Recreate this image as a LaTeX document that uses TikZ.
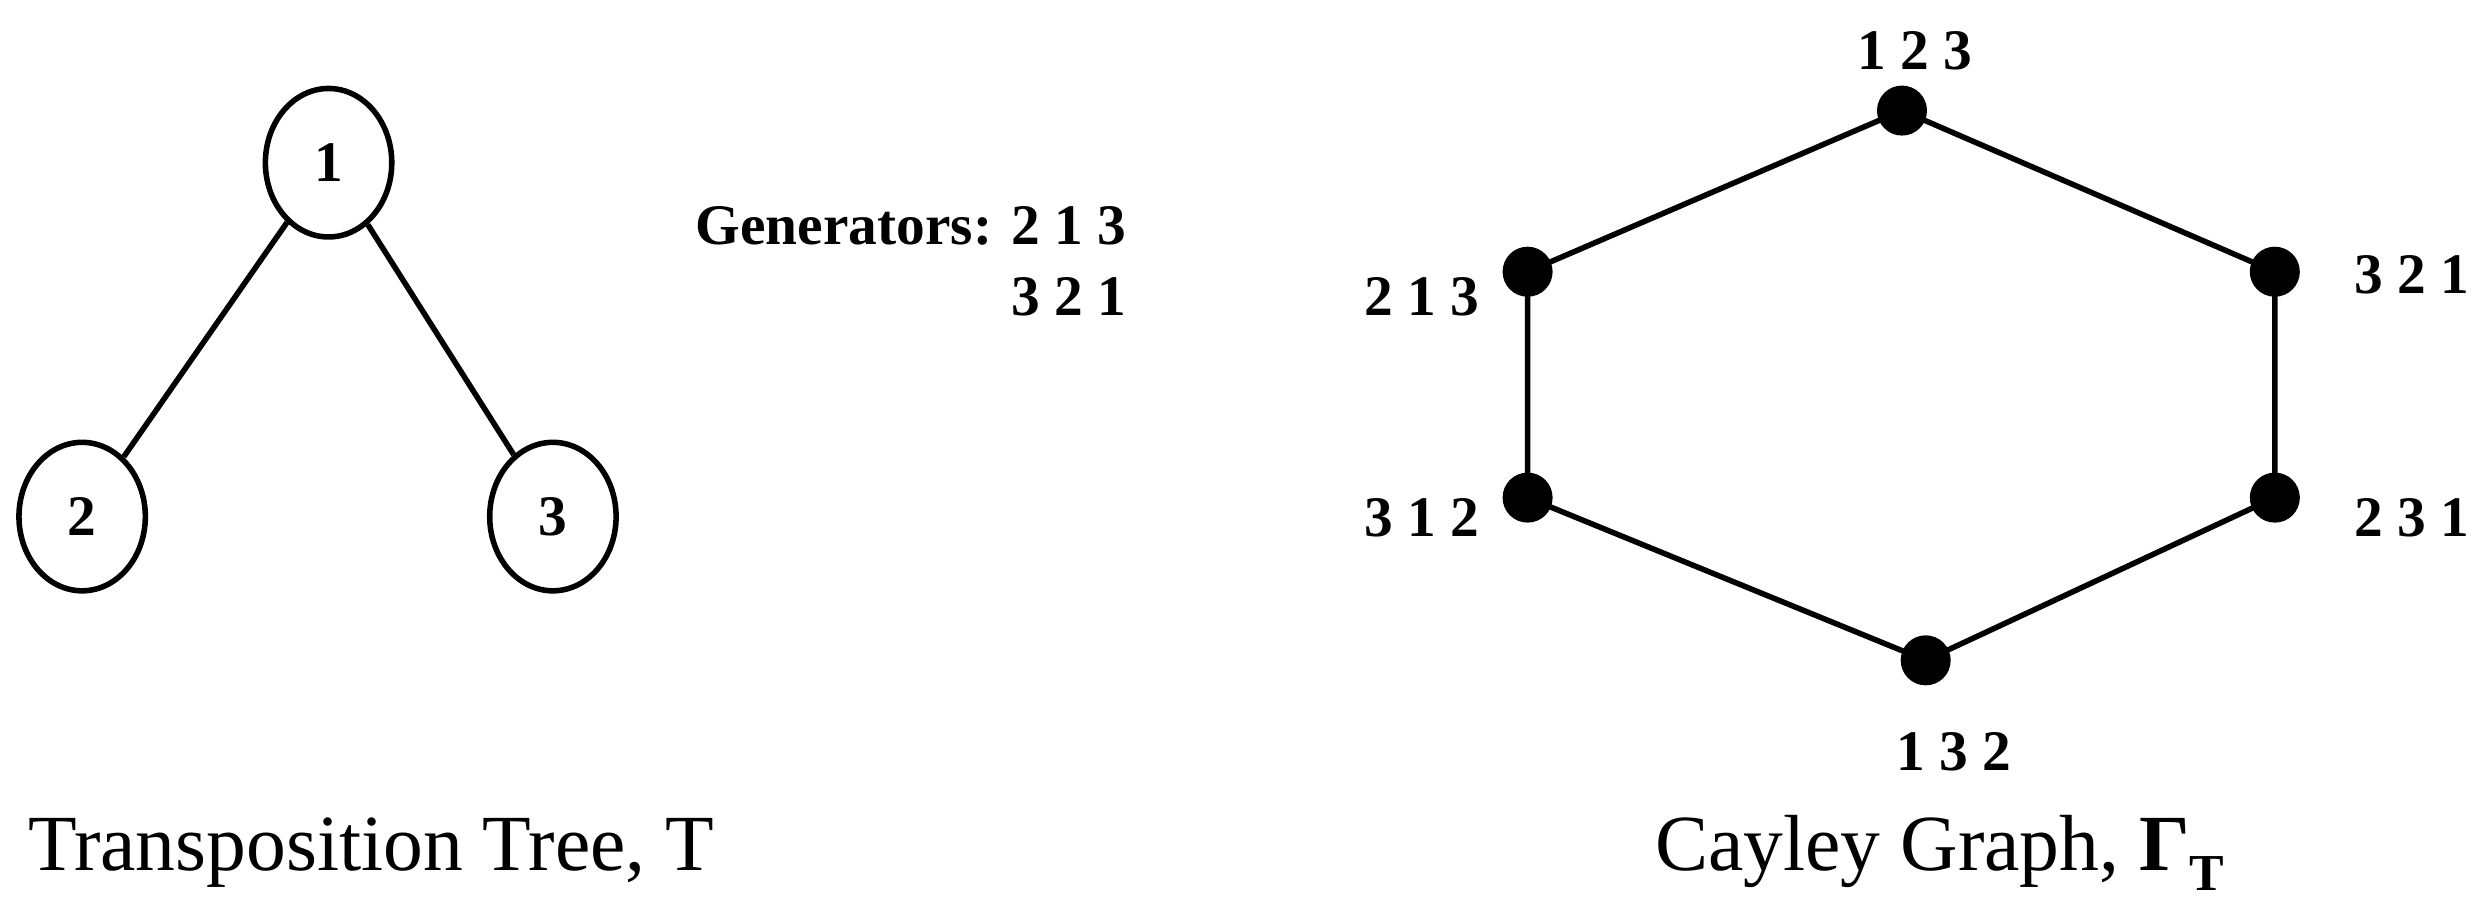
\documentclass[tikz,border=0pt]{standalone}
\usepackage{fontspec}
\setmainfont{Liberation Serif}
\usetikzlibrary{shapes.geometric}
\begin{document}
\begin{tikzpicture}[x=0.03cm,y=-0.03cm,
  tn/.style={draw,line width=3pt,ellipse,minimum width=2.4cm,minimum height=2.82cm,inner sep=0pt,font=\fontsize{31}{34}\selectfont\bfseries},
  lbl/.style={font=\fontsize{31}{34}\selectfont\bfseries,inner sep=0pt},
  dot/.style={circle,fill=black,minimum size=0.95cm,inner sep=0pt},
  ttl/.style={font=\fontsize{43}{48}\selectfont,inner sep=0pt},
  ln/.style={line width=3pt}]
\useasboundingbox (0,0) rectangle (1568,584);
\node[tn] (n1) at (208,103) {1};
\node[tn] (n2) at (52,327) {2};
\node[tn] (n3) at (350,327) {3};
\draw[ln] (n1) -- (n2);
\draw[ln] (n1) -- (n3);
\node[lbl,anchor=east] (g1) at (713,143) {Generators: 2 1 3};
\node[lbl,anchor=east] (g2) at (713,188) {3 2 1};
\node[dot] (a) at (1204,70) {};
\node[dot] (b) at (1440,172) {};
\node[dot] (c) at (1440,315) {};
\node[dot] (d) at (1219,418) {};
\node[dot] (e) at (967,315) {};
\node[dot] (f) at (967,172) {};
\draw[ln] (a.center)--(b.center)--(c.center)--(d.center)--(e.center)--(f.center)--(a.center);
\node[lbl] (la) at (1212,32) {1 2 3};
\node[lbl] (lb) at (1527,174) {3 2 1};
\node[lbl] (lc) at (1527,328) {2 3 1};
\node[lbl] (ld) at (1237,476) {1 3 2};
\node[lbl] (le) at (900,328) {3 1 2};
\node[lbl] (lf) at (900,188) {2 1 3};
\node[ttl] (t1) at (235,540) {Transposition Tree, T};
\node[ttl] (t2) at (1228,540) {Cayley Graph, \textbf{Γ\raisebox{-0.25em}{\fontsize{28}{30}\selectfont T}}};
\end{tikzpicture}
\end{document}
